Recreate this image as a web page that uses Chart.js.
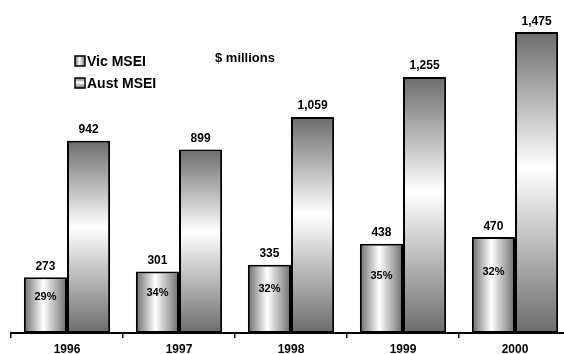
<!DOCTYPE html>
<html lang="en">
<head>
  <meta charset="UTF-8">
  <title>Vic and Aust MSEI</title>
  <script src="https://cdn.jsdelivr.net/npm/chart.js"></script>
  <style>
    html, body { margin: 0; padding: 0; background: #fff; overflow: hidden; }
    #chart { display: block; }
  </style>
</head>
<body>
  <canvas id="chart" width="580" height="354"></canvas>

<script>
  // dados
  const anos = ['1996', '1997', '1998', '1999', '2000'];
  const vicMsei = [273, 301, 335, 438, 470];
  const austMsei = [942, 899, 1059, 1255, 1475];
  const participacaoVic = ['29%', '34%', '32%', '35%', '32%'];

  const fonte = "'Liberation Sans', Arial, sans-serif";
  const escuro = '#6c6c6c';
  const catPct = 0.77;

  // gradiente por barra, calculado a partir das escalas do grafico
  function corBarra(ctx) {
    const chart = ctx.chart;
    const xs = chart.scales.x, ys = chart.scales.y;
    if (!chart.chartArea || !xs || !ys) return '#aaaaaa';
    const c = chart.ctx;
    const centro = xs.getPixelForValue(ctx.dataIndex);
    const largura = xs.width / anos.length * catPct / 2;
    const esq = ctx.datasetIndex === 0 ? centro - largura : centro;
    const topo = ys.getPixelForValue(ctx.raw);
    const base = ys.getPixelForValue(0);
    let g;
    if (ctx.datasetIndex === 0) {
      g = c.createLinearGradient(esq, 0, esq + largura, 0);
    } else {
      g = c.createLinearGradient(0, topo, 0, base);
    }
    g.addColorStop(0, escuro);
    g.addColorStop(0.45, '#ffffff');
    g.addColorStop(1, escuro);
    return g;
  }

  const rotulos = {
    id: 'rotulos',
    afterDatasetsDraw(chart) {
      const c = chart.ctx;
      c.save();
      c.fillStyle = '#000';
      c.textAlign = 'center';
      c.textBaseline = 'alphabetic';
      c.font = 'bold 12px ' + fonte;
      chart.data.datasets.forEach((ds, i) => {
        chart.getDatasetMeta(i).data.forEach((bar, j) => {
          c.fillText(ds.data[j].toLocaleString('en-US'), bar.x, bar.y - 7.5);
        });
      });
      c.font = 'bold 11px ' + fonte;
      chart.getDatasetMeta(0).data.forEach((bar, j) => {
        const h = bar.base - bar.y;
        c.fillText(participacaoVic[j], bar.x, bar.y + h * 0.4);
      });

      // legenda dentro da area
      const itens = [[75, 56], [75, 78]];
      c.textAlign = 'left';
      c.font = 'bold 14px ' + fonte;
      chart.data.datasets.forEach((ds, i) => {
        const [x, y] = itens[i];
        let g;
        if (i === 0) g = c.createLinearGradient(x, 0, x + 10, 0);
        else g = c.createLinearGradient(0, y, 0, y + 10);
        g.addColorStop(0, escuro);
        g.addColorStop(0.45, '#ffffff');
        g.addColorStop(1, escuro);
        c.fillStyle = g;
        c.fillRect(x, y, 10, 10);
        c.strokeStyle = '#000';
        c.lineWidth = 1.5;
        c.strokeRect(x, y, 10, 10);
        c.fillStyle = '#000';
        c.fillText(ds.label, x + 12, y + 10);
      });
      c.font = 'bold 13px ' + fonte;
      c.fillText('$ millions', 215, 62);
      c.restore();
    }
  };

  const config = {
    type: 'bar',
    data: {
      labels: anos,
      datasets: [{
        label: 'Vic MSEI',
        data: vicMsei,
        backgroundColor: corBarra,
        borderColor: '#000',
        borderWidth: 2,
        borderSkipped: false,
        categoryPercentage: catPct,
        barPercentage: 1
      }, {
        label: 'Aust MSEI',
        data: austMsei,
        backgroundColor: corBarra,
        borderColor: '#000',
        borderWidth: 2,
        borderSkipped: false,
        categoryPercentage: catPct,
        barPercentage: 1
      }]
    },
    options: {
      responsive: false,
      animation: false,
      layout: { padding: { left: 11, right: 9, top: 10, bottom: 0 } },
      plugins: {
        legend: { display: false },
        tooltip: { enabled: false }
      },
      scales: {
        x: {
          offset: true,
          border: { display: true, color: '#000', width: 2 },
          grid: {
            display: true,
            offset: true,
            drawOnChartArea: false,
            drawTicks: true,
            tickLength: 5,
            color: '#000',
            lineWidth: 1.5
          },
          ticks: {
            color: '#000',
            padding: 4,
            font: { family: fonte, size: 12, weight: 'bold' }
          },
          afterFit(scale) { scale.height = 21; }
        },
        y: {
          display: false,
          min: 0,
          max: 1583
        }
      }
    },
    plugins: [rotulos]
  };

  const grafico = new Chart(document.getElementById('chart'), config);
  grafico.update('none');
</script>
</body>
</html>
